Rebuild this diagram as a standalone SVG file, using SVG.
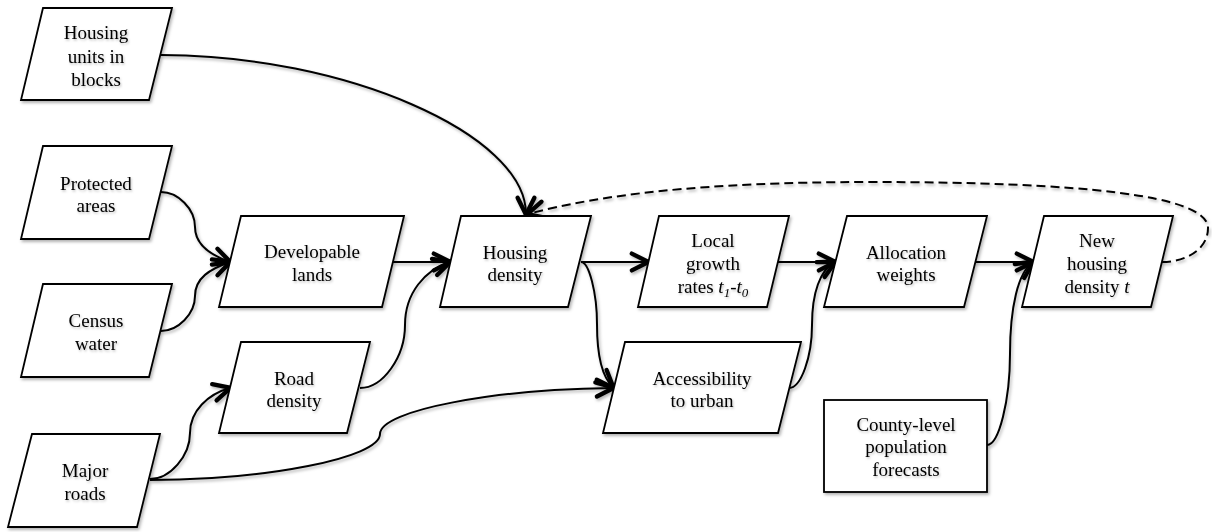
<svg xmlns="http://www.w3.org/2000/svg" width="1212" height="532" viewBox="0 0 1212 532">
<defs>
<filter id="sh" x="-10%" y="-10%" width="125%" height="130%">
<feDropShadow dx="1.5" dy="2" stdDeviation="1.5" flood-color="#000" flood-opacity="0.3"/>
</filter>
<filter id="tsh" x="-10%" y="-20%" width="125%" height="150%">
<feDropShadow dx="1" dy="1.5" stdDeviation="1" flood-color="#000" flood-opacity="0.25"/>
</filter>
<marker id="arr" markerUnits="userSpaceOnUse" markerWidth="24" markerHeight="24" viewBox="0 0 20 20" refX="16" refY="10" orient="auto" overflow="visible">
<path d="M2.5 3 L16.5 10 L2.5 17" fill="none" stroke="#000" stroke-width="3.6" stroke-linejoin="miter" stroke-linecap="round"/>
</marker>
</defs>
<style>
.box{fill:#fff;stroke:#000;stroke-width:1.8;filter:url(#sh)}
.t{font-family:"Liberation Serif","Times New Roman",serif;font-size:19px;fill:#000;text-anchor:middle;filter:url(#tsh)}
.c{fill:none;stroke:#000;stroke-width:2;marker-end:url(#arr)}
.d{fill:none;stroke:#000;stroke-width:2;stroke-dasharray:9 5;marker-end:url(#arr)}
</style>
<rect width="1212" height="532" fill="#fff"/>
<g id="connectors" filter="url(#sh)">
<path class="c" d="M161 55 C344 55 526 134 526 214"/>
<path class="c" d="M161 192 C178 192 195 209 195 227 C195 245 210 255 230 262"/>
<path class="c" d="M161 331 C178 331 195 314 195 296 C195 278 210 269 230 262"/>
<path class="c" d="M393 262 L450 262"/>
<path class="c" d="M360 388 C383 388 405 357 405 325 C405 293 425 270 450 262"/>
<path class="c" d="M150 479 C170 479 190 456 190 433 C190 411 208 394 230 388"/>
<path class="c" d="M150 480 C265 480 380 458 380 434 C380 410 497 389 613 388"/>
<path class="c" d="M581 262 L648 262"/>
<path class="c" d="M581 262 C589 262 597 293 597 324 C597 356 603 378 613 387"/>
<path class="c" d="M778 262 L835 262"/>
<path class="c" d="M789 388 C801 388 812 357 812 325 C812 293 820 270 835 262"/>
<path class="c" d="M975 262 L1033 262"/>
<path class="c" d="M987 445 C999 445 1010 400 1010 354 C1010 308 1018 272 1033 262"/>
<path class="d" d="M1162 262 C1185 262 1208 250 1208 228 C1208 195 1080 182 870 182 C700 182 600 195 528 214"/>
</g>
<g id="housing_units">
<polygon class="box" points="43,8 172,8 149,100 21,100"/>
<text class="t" x="96" y="39">Housing</text>
<text class="t" x="96" y="63">units in</text>
<text class="t" x="96" y="86">blocks</text>
</g>
<g id="protected_areas">
<polygon class="box" points="43,146 172,146 149,239 21,239"/>
<text class="t" x="96" y="190">Protected</text>
<text class="t" x="96" y="212">areas</text>
</g>
<g id="census_water">
<polygon class="box" points="43,284 172,284 149,377 21,377"/>
<text class="t" x="96" y="327">Census</text>
<text class="t" x="96" y="350">water</text>
</g>
<g id="major_roads">
<polygon class="box" points="32,434 160,434 137,527 8,527"/>
<text class="t" x="85" y="477">Major</text>
<text class="t" x="85" y="500">roads</text>
</g>
<g id="developable_lands">
<polygon class="box" points="241,216 404,216 382,307 219,307"/>
<text class="t" x="312" y="258">Developable</text>
<text class="t" x="312" y="281">lands</text>
</g>
<g id="road_density">
<polygon class="box" points="241,342 370,342 347,433 219,433"/>
<text class="t" x="294" y="385">Road</text>
<text class="t" x="294" y="407">density</text>
</g>
<g id="housing_density">
<polygon class="box" points="461,216 591,216 568,307 440,307"/>
<text class="t" x="515" y="259">Housing</text>
<text class="t" x="515" y="281">density</text>
</g>
<g id="local_growth">
<polygon class="box" points="659,216 789,216 767,307 638,307"/>
<text class="t" x="713" y="247">Local</text>
<text class="t" x="713" y="270">growth</text>
<text class="t" x="713" y="293">rates <tspan font-style="italic">t</tspan><tspan font-style="italic" font-size="13" dy="4">1</tspan><tspan dy="-4">-</tspan><tspan font-style="italic">t</tspan><tspan font-style="italic" font-size="13" dy="4">0</tspan></text>
</g>
<g id="accessibility">
<polygon class="box" points="625,342 801,342 778,433 603,433"/>
<text class="t" x="702" y="385">Accessibility</text>
<text class="t" x="702" y="407">to urban</text>
</g>
<g id="allocation_weights">
<polygon class="box" points="847,216 987,216 964,307 824,307"/>
<text class="t" x="906" y="259">Allocation</text>
<text class="t" x="906" y="281">weights</text>
</g>
<g id="new_housing">
<polygon class="box" points="1044,216 1173,216 1151,307 1022,307"/>
<text class="t" x="1097" y="247">New</text>
<text class="t" x="1097" y="270">housing</text>
<text class="t" x="1097" y="293">density <tspan font-style="italic">t</tspan></text>
</g>
<g id="county_forecasts">
<rect class="box" x="824" y="400" width="163" height="92"/>
<text class="t" x="906" y="431">County-level</text>
<text class="t" x="906" y="453">population</text>
<text class="t" x="906" y="476">forecasts</text>
</g>
</svg>
